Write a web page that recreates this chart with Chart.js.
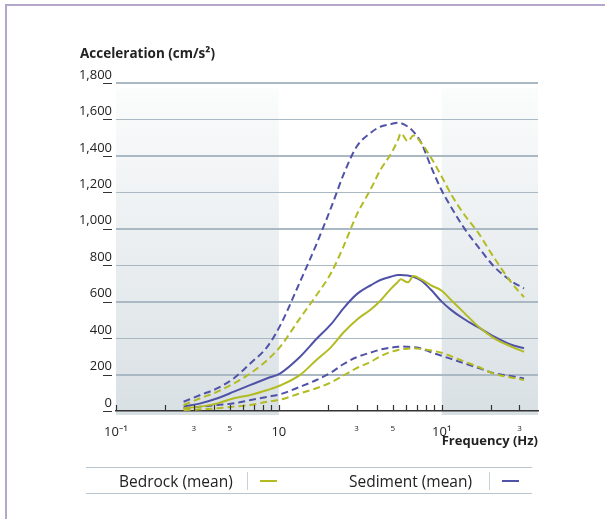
<!DOCTYPE html>
<html lang="en">
<head>
    <meta charset="UTF-8">
    <title>Acceleration spectra</title>
    <script src="https://cdn.jsdelivr.net/npm/chart.js"></script>
    <style>
        body {
            margin: 0;
            background: #fff;
            font-family: 'Open Sans', 'Noto Sans', sans-serif;
            color: #222;
        }
        .frame {
            position: relative;
            width: 605px;
            height: 519px;
            overflow: hidden;
        }
        .frame-border {
            position: absolute;
            left: 5px;
            top: 4px;
            width: 700px;
            height: 700px;
            border-top: 2px solid #b5a7cc;
            border-left: 2px solid #b5a7cc;
        }
        canvas {
            position: absolute;
            left: 0;
            top: 0;
        }
        .y-title {
            position: absolute;
            left: 80px;
            top: 44px;
            font-size: 13.5px;
            font-weight: bold;
            line-height: 18px;
        }
        .legend-rule {
            position: absolute;
            left: 86px;
            width: 446px;
            height: 1px;
            background: #b9c6d2;
        }
        .legend-text {
            position: absolute;
            top: 470px;
            font-size: 15.5px;
            line-height: 22px;
        }
        .legend-sep {
            position: absolute;
            top: 472px;
            width: 1px;
            height: 18px;
            background: #c9d1d8;
        }
        .legend-mark {
            position: absolute;
            top: 480px;
            width: 17px;
            height: 2px;
        }
    </style>
</head>
<body>
    <div class="frame">
        <div class="frame-border"></div>
        <canvas id="spectraChart" width="605" height="519"></canvas>
        <div class="y-title">Acceleration (cm/s²)</div>

        <!-- Legend -->
        <div class="legend-rule" style="top: 467px;"></div>
        <div class="legend-rule" style="top: 493px;"></div>
        <div class="legend-text" style="left: 119px;">Bedrock (mean)</div>
        <div class="legend-sep" style="left: 247px;"></div>
        <div class="legend-mark" style="left: 260px; background: #b3bb22;"></div>
        <div class="legend-text" style="left: 349px;">Sediment (mean)</div>
        <div class="legend-sep" style="left: 489px;"></div>
        <div class="legend-mark" style="left: 502px; background: #4f52a6;"></div>
    </div>

    <script>
        // Frequency samples (Hz) shared by every curve
        const freq = [0.26, 0.33, 0.42, 0.53, 0.67, 0.85, 1.02, 1.35, 1.7, 2.1, 2.5, 3.0, 3.7, 4.2,
                      4.9, 5.4, 5.6, 6.2, 6.7, 7.5, 8.6, 10, 11.4, 13.7, 16.7, 21, 27, 32];

        // Bedrock: mean and the dashed upper / lower bounds (cm/s²)
        const bedMean  = [15, 24, 42, 70, 88, 115, 140, 198, 280, 352, 432, 500, 560, 605,
                          673, 710, 723, 706, 741, 722, 690, 660, 610, 540, 465, 399, 352, 325];
        const bedUpper = [33, 70, 106, 152, 207, 280, 353, 510, 635, 760, 905, 1075, 1225, 1323,
                          1414, 1490, 1524, 1480, 1512, 1470, 1390, 1286, 1190, 1080, 980, 840, 700, 625];
        const bedLower = [5, 9, 15, 24, 33, 51, 62, 97, 125, 158, 195, 235, 272, 300,
                          325, 335, 338, 342, 344, 340, 332, 320, 301, 272, 243, 204, 183, 170];

        // Sediment: mean and bounds
        const sedMean  = [24, 42, 70, 106, 143, 180, 207, 298, 395, 478, 565, 640, 692, 719,
                          738, 746, 746, 743, 737, 715, 665, 600, 555, 505, 460, 408, 362, 344];
        const sedUpper = [51, 88, 125, 180, 262, 353, 470, 710, 915, 1120, 1300, 1450, 1530, 1560,
                          1575, 1582, 1580, 1560, 1533, 1470, 1340, 1210, 1120, 1005, 902, 792, 710, 673];
        const sedLower = [15, 24, 33, 42, 60, 78, 92, 133, 170, 212, 258, 295, 322, 337,
                          348, 353, 354, 352, 350, 343, 322, 303, 286, 262, 237, 207, 191, 178];

        // Axis ticks
        const xTicks = [0.1, 0.2, 0.3, 0.4, 0.5, 0.6, 0.7, 0.8, 0.9,
                        1, 2, 3, 4, 5, 6, 7, 8, 9, 10, 20, 30];
        const xTickLabels = { 0.1: '10⁻¹', 0.3: '3', 0.5: '5', 1: '10', 3: '3', 5: '5', 10: '10¹', 30: '3' };
        const bigXLabels = [0.1, 1, 10];
        const yTicks = [0, 200, 400, 600, 800, 1000, 1200, 1400, 1600, 1800];

        const GREEN = '#b3bb22';
        const BLUE = '#4f52a6';

        function points(values) {
            return freq.map((f, i) => ({ x: f, y: values[i] }));
        }

        function curve(label, values, color, dashed) {
            return {
                label: label,
                data: points(values),
                borderColor: color,
                borderWidth: 2,
                borderDash: dashed ? [7, 4] : [],
                pointRadius: 0,
                cubicInterpolationMode: 'monotone',
                fill: false
            };
        }

        // Grey gradient bands below 1 Hz and above 10 Hz
        const bands = {
            id: 'bands',
            beforeDraw(chart) {
                const { ctx, chartArea, scales: { x, y } } = chart;
                const top = y.getPixelForValue(1770);
                const bottom = chartArea.bottom + 4;
                const grad = ctx.createLinearGradient(0, top, 0, bottom);
                grad.addColorStop(0, '#fbfcfc');
                grad.addColorStop(1, '#d9e0e4');
                ctx.save();
                ctx.fillStyle = grad;
                const l1 = x.getPixelForValue(0.1), r1 = x.getPixelForValue(1);
                const l2 = x.getPixelForValue(10), r2 = chartArea.right;
                ctx.fillRect(l1, top, r1 - l1, bottom - top);
                ctx.fillRect(l2, top, r2 - l2, bottom - top);
                ctx.restore();
            }
        };

        // Short ticks: upward on the frequency axis, dashes under the y labels
        const tickMarks = {
            id: 'tickMarks',
            afterDraw(chart) {
                const { ctx, chartArea, scales: { x, y } } = chart;
                ctx.save();
                ctx.strokeStyle = '#333';
                ctx.lineWidth = 1.2;
                ctx.beginPath();
                x.ticks.forEach(t => {
                    const px = Math.round(x.getPixelForValue(t.value)) + 0.5;
                    ctx.moveTo(px, chartArea.bottom - 6);
                    ctx.lineTo(px, chartArea.bottom);
                });
                y.ticks.forEach(t => {
                    const py = Math.round(y.getPixelForValue(t.value)) + 0.5;
                    ctx.moveTo(chartArea.left - 13, py);
                    ctx.lineTo(chartArea.left - 4, py);
                });
                ctx.stroke();
                ctx.restore();
            }
        };

        new Chart(document.getElementById('spectraChart'), {
            type: 'line',
            data: {
                datasets: [
                    curve('Bedrock upper', bedUpper, GREEN, true),
                    curve('Bedrock lower', bedLower, GREEN, true),
                    curve('Bedrock (mean)', bedMean, GREEN, false),
                    curve('Sediment upper', sedUpper, BLUE, true),
                    curve('Sediment lower', sedLower, BLUE, true),
                    curve('Sediment (mean)', sedMean, BLUE, false)
                ]
            },
            options: {
                responsive: false,
                animation: false,
                layout: { padding: { left: 80, right: 67, top: 83, bottom: 70 } },
                plugins: {
                    legend: { display: false },
                    tooltip: { enabled: false }
                },
                scales: {
                    x: {
                        type: 'logarithmic',
                        min: 0.1,
                        max: 39,
                        afterBuildTicks: scale => {
                            scale.ticks = xTicks.map(v => ({ value: v }));
                        },
                        afterFit: scale => { scale.height = 38; },
                        ticks: {
                            autoSkip: false,
                            maxRotation: 0,
                            padding: 5,
                            color: '#222',
                            font: ctx => ({
                                family: "'Open Sans', 'Noto Sans', sans-serif",
                                size: bigXLabels.includes(ctx.tick && ctx.tick.value) ? 13 : 8
                            }),
                            callback: value => xTickLabels[value] || ''
                        },
                        grid: { display: false },
                        border: { display: true, color: '#333', width: 1.5 },
                        title: {
                            display: true,
                            text: 'Frequency (Hz)',
                            align: 'end',
                            color: '#222',
                            padding: 0,
                            font: { family: "'Open Sans', 'Noto Sans', sans-serif", size: 13, weight: 'bold' }
                        }
                    },
                    y: {
                        min: 0,
                        max: 1800,
                        afterBuildTicks: scale => {
                            scale.ticks = yTicks.map(v => ({ value: v }));
                        },
                        afterFit: scale => { scale.width = 36; },
                        ticks: {
                            labelOffset: -8,
                            padding: 4,
                            color: '#222',
                            font: { family: "'Open Sans', 'Noto Sans', sans-serif", size: 13 },
                            callback: value => value.toLocaleString('en-US')
                        },
                        grid: {
                            drawTicks: false,
                            color: ctx => ctx.tick && ctx.tick.value === 0 ? 'rgba(0,0,0,0)' : '#a9b8c3',
                            lineWidth: ctx => ctx.index % 2 ? 2 : 1
                        },
                        border: { display: false }
                    }
                }
            },
            plugins: [bands, tickMarks]
        });
    </script>
</body>
</html>
